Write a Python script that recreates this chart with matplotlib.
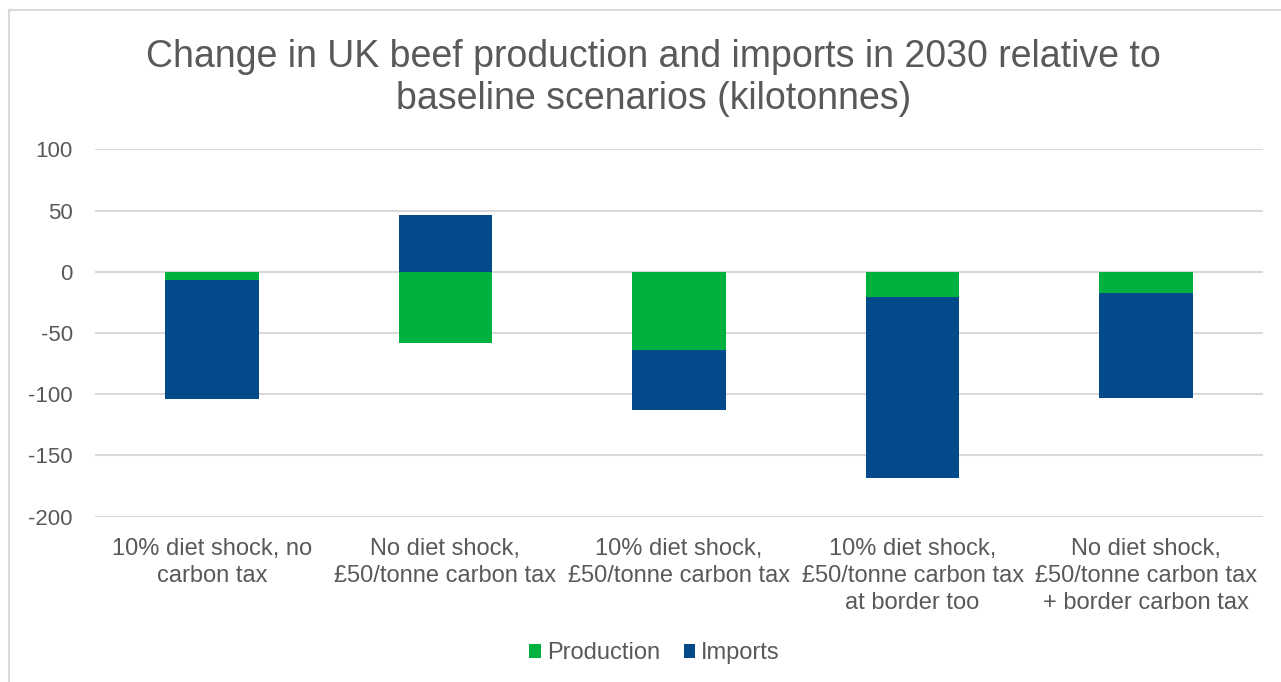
import numpy as np
import matplotlib.pyplot as plt
from matplotlib.patches import Rectangle

plt.rcParams['font.family'] = ['Liberation Sans', 'DejaVu Sans']
plt.rcParams['axes.unicode_minus'] = False

scenarios = ['10% diet shock, no\ncarbon tax',
             'No diet shock,\n£50/tonne carbon tax',
             '10% diet shock,\n£50/tonne carbon tax',
             '10% diet shock,\n£50/tonne carbon tax\nat border too',
             'No diet shock,\n£50/tonne carbon tax\n+ border carbon tax']
production = [-7.0, -57.8, -63.9, -20.3, -17.0]
imports = [-96.6, 46.4, -48.7, -148.1, -85.8]

green = '#00B140'
blue = '#034A8A'
grey = '#595959'
grid = '#D9D9D9'

fig = plt.figure(figsize=(12.81, 6.82), dpi=100)
ax = fig.add_axes([0.0742, 0.2424, 0.9117, 0.5384])

x = np.arange(len(scenarios))
prod = np.array(production)
imp = np.array(imports)
# imports stack on top of production when both go the same way
imp_base = np.where(np.sign(imp) == np.sign(prod), prod, 0)

ax.bar(x, prod, width=0.4, color=green, label='Production', zorder=2)
ax.bar(x, imp, bottom=imp_base, width=0.4, color=blue, label='Imports', zorder=2)

ax.set_xlim(-0.5, len(scenarios) - 0.5)
ax.set_ylim(-200, 100)
ax.set_yticks(np.arange(-200, 101, 50))
ax.yaxis.grid(True, color=grid, linewidth=1.5, zorder=0)
ax.set_axisbelow(True)
for s in ax.spines.values():
    s.set_visible(False)

ax.set_xticks(x)
ax.set_xticklabels(scenarios, fontsize=17, color=grey, linespacing=1.32, va='top')
ax.tick_params(axis='x', length=0, pad=15)
ax.tick_params(axis='y', length=0, pad=16, labelsize=16, labelcolor=grey)

fig.text(0.51, 0.886, 'Change in UK beef production and imports in 2030 relative to\nbaseline scenarios (kilotonnes)',
         ha='center', va='center', fontsize=27, color=grey, linespacing=1.2)

fig.legend(loc='center', bbox_to_anchor=(0.511, 0.042), ncol=2, frameon=False,
           fontsize=17, labelcolor=grey, handlelength=0.5, handleheight=0.5,
           handletextpad=0.25, columnspacing=1.0)

fig.patches.append(Rectangle((9 / 1281, -0.01), 1.0, 1 - 10 / 682 + 0.01,
                             transform=fig.transFigure, fill=False,
                             edgecolor=grid, linewidth=1.5))

fig.savefig('out.png', dpi=100)
